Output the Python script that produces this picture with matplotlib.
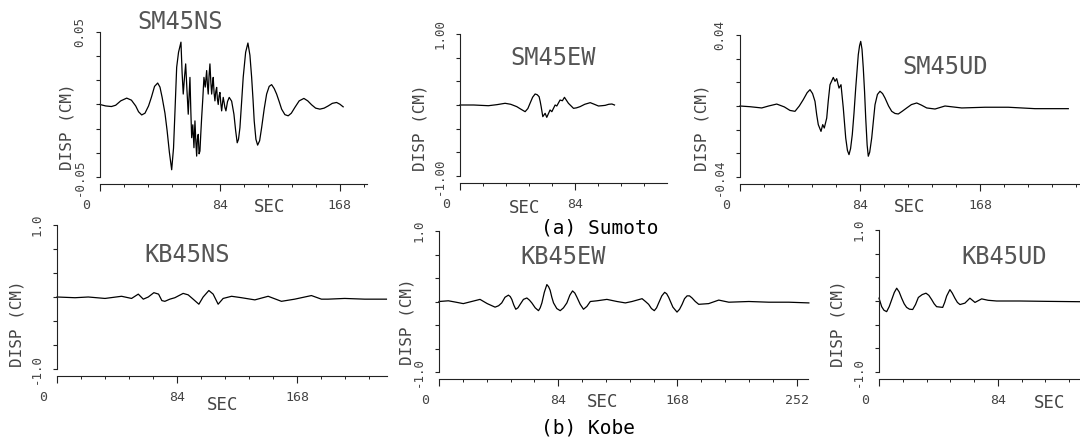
import matplotlib
matplotlib.use('Agg')
import matplotlib.pyplot as plt
from matplotlib.transforms import ScaledTranslation

W, H = 1080, 437
FONT = 'DejaVu Sans Mono'

sm_ns_t = [0, 4, 8, 11, 14.5, 18.7, 22, 25, 27, 29.2, 31.5, 34, 36, 38.2, 40.4, 42, 43.5,
           45.5, 47, 48.6, 50.2, 51.5, 52.5, 53.7, 55, 56.7,
           57.5, 58.3, 59.2, 60.0, 60.9, 61.8, 62.4, 63.0, 63.6, 64.2, 65.0, 65.8, 66.5,
           67.1, 67.7, 68.2, 68.8, 69.4, 70.0, 70.6, 71.2, 72.0, 72.8, 73.7, 74.7, 75.2,
           75.8, 76.4, 77.0, 77.6, 78.2, 78.8, 79.3, 79.9, 80.5, 81.1, 81.7, 82.2, 82.8,
           83.4, 84.0, 84.6, 85.2, 85.8, 86.3, 86.9, 87.5, 88.2, 89.3, 90.5, 92.2,
           93.8, 95, 96.1, 97, 98, 99.2, 100.3, 102, 103.6, 105, 106.2, 107.2, 108, 109.2,
           110.4, 111.8, 113.2, 115, 116.7, 118.5, 120.2, 122, 123.7, 125.5, 127.2, 129.5,
           131.8, 134, 136.5, 139.5, 142.8, 145.5, 148.2, 151, 154, 157, 159.8, 162.7,
           165.7, 168, 170.3]
sm_ns_v = [0, -0.001, -0.0014, -0.0005, 0.0025, 0.0044, 0.003, -0.001, -0.005, -0.0072,
           -0.006, -0.001, 0.005, 0.0125, 0.0148, 0.012, 0.005,
           -0.006, -0.018, -0.033, -0.045, -0.03, -0.005, 0.0257, 0.036, 0.043,
           0.022, 0.0072, 0.019, 0.028, 0.01, -0.0067, 0.006, 0.0187, -0.004, -0.0229,
           -0.014, -0.0298, -0.0113, -0.025, -0.0356, -0.024, -0.0206, -0.034, -0.0321,
           -0.02, -0.009, 0.004, 0.0187, 0.012, 0.0234, 0.014, 0.0072, 0.02, 0.028, 0.016,
           0.0072, 0.014, 0.0187, 0.008, 0.0025, 0.009, 0.0118, 0.004, 0.0, 0.006, 0.0083,
           0.001, -0.0044, 0.001, 0.0049, 0.0015, -0.0021, -0.0044, 0.002, 0.0049, 0.0023,
           -0.0067, -0.018, -0.0264, -0.024, -0.016, 0.002, 0.0188, 0.036, 0.0424, 0.034,
           0.0188, 0.003, -0.0113, -0.024, -0.028, -0.025, -0.016, -0.003, 0.0072, 0.0125,
           0.0137, 0.011, 0.0072, 0.002, -0.0032, -0.007, -0.0078, -0.006, -0.002, 0.0025,
           0.0042, 0.0025, -0.0002, -0.0025, -0.0032, -0.0025, -0.001, 0.0008, 0.0014,
           0.0002, -0.0016]

sm_ew_t = [0, 10, 20.7, 27, 32.9, 37, 41.4, 44.5, 47.5, 49.5, 51.1, 53, 54.8, 56.3, 57.7,
           58.5, 59.2, 60.4, 62.1, 63.3, 65.7, 67.0, 69.4, 70.6, 73.0, 74.7, 76.2, 79.1,
           82.8, 85, 87.6, 91, 95.0, 98, 101.0, 103.5, 105.9, 108.5, 110.8, 112.7]
sm_ew_v = [0, 0, -0.01, 0.005, 0.024, 0.01, -0.023, -0.06, -0.094, -0.05, 0.024, 0.11,
           0.155, 0.145, 0.117, 0.05, -0.023, -0.164, -0.117, -0.174, -0.07, -0.094, 0.0,
           -0.014, 0.07, 0.06, 0.108, 0.024, -0.047, -0.04, -0.023, 0.01, 0.033, 0.01,
           -0.014, -0.01, -0.005, 0.01, 0.014, 0.0]

sm_ud_t = [0, 7, 15.2, 20, 25.7, 31, 35, 38.5, 41.5, 44.3, 47, 49.0, 50.8, 52.5, 53.7, 54.8,
           56.7, 57.9, 59.0, 60.7, 61.8, 63.0, 65.3, 66.5, 67.7, 69.3, 70.7, 72.3, 74.0,
           75.2, 76.3, 77.4, 78.6, 79.8, 81.0, 82.8, 83.7, 84.5, 85.4, 86.3, 87.2, 88.0,
           89.0, 89.8, 90.8, 92.2, 93.3, 94.5, 96.2, 98.0, 99.8, 101.5, 104, 106.2, 108.5,
           110.8, 113.5, 116.7, 120, 123.7, 127, 130.7, 136.5, 143.5, 155.2, 171.5, 187.8,
           206.5, 229.8]
sm_ud_v = [0, -0.0004, -0.0011, 0, 0.0011, -0.0005, -0.0025, -0.003, 0, 0.0036, 0.0075,
           0.0092, 0.007, 0.0026, -0.005, -0.0105, -0.0143, -0.0105, -0.0124, -0.0068,
           0.003, 0.012, 0.0161, 0.0139, 0.0154, 0.0101, 0.012, -0.0011, -0.018, -0.025,
           -0.0274, -0.024, -0.0161, -0.004, 0.0101, 0.0289, 0.034, 0.0364, 0.032, 0.0214,
           0.008, -0.0068, -0.022, -0.0283, -0.026, -0.018, -0.009, 0.0007, 0.0065, 0.0083,
           0.007, 0.0045, 0, -0.003, -0.0042, -0.0045, -0.003, -0.0011, 0.0008, 0.0017,
           0.0005, -0.0011, -0.0017, 0.0, -0.0011, -0.0007, -0.0007, -0.0015, -0.0015]

kb_ns_t = [0, 12.6, 21.9, 33.6, 45.2, 52.2, 56.9, 60.4, 63.9, 67.8, 71.1, 73.4, 75.5, 79,
           82.5, 88.3, 91.8, 95.3, 99.3, 102.3, 106.3, 109.3, 112.8, 116.3, 122.2, 129.2,
           138.5, 147.8, 157.1, 166.4, 178.1, 185.1, 189.7, 201.4, 215.4, 230.6]
kb_ns_v = [0, -0.01, 0, -0.02, 0.01, -0.02, 0.04, -0.03, 0, 0.06, 0.04, -0.05, -0.06,
           -0.03, -0.01, 0.05, 0.03, -0.03, -0.10, 0, 0.09, 0.04, -0.10, -0.02, 0.01,
           -0.01, -0.04, 0.01, -0.06, -0.03, 0.02, -0.03, -0.03, -0.02, -0.03, -0.03]

kb_ew_t = [0, 6.6, 12, 17.1, 23, 28.9, 34, 39.5, 42, 44.2, 46.5, 48.9, 50.2, 51.3, 52.7,
           54.1, 55.6, 57.2, 59.5, 61.9, 63.7, 65.4, 67.8, 70.1, 71.3, 72.5, 74.2, 76.0,
           77.2, 78.3, 79.5, 80.7, 83.0, 85.4, 87.7, 90.1, 92.2, 94.1, 95.7, 97.2, 99.5,
           101.8, 104.2, 106.6, 111.3, 118.3, 125.4, 131.3, 136.0, 143.1, 145.5, 147.7,
           149.7, 151.7, 153.3, 154.8, 157.0, 159.0, 160.4, 161.8, 164.8, 167.7, 169.5,
           171.3, 173.0, 174.8, 176.5, 178.3, 180.6, 183.0, 190.0, 197.1, 204.2, 218.3,
           232.4, 246.5, 260.6]
kb_ew_v = [0, 0.01, -0.01, -0.03, 0, 0.03, -0.03, -0.08, -0.06, -0.02, 0.06, 0.09, 0.07,
           0.03, -0.05, -0.11, -0.09, -0.04, 0.03, 0.05, 0.02, -0.02, -0.09, -0.13, -0.09,
           -0.02, 0.13, 0.24, 0.21, 0.16, 0.06, -0.02, -0.10, -0.13, -0.09, -0.02, 0.09,
           0.15, 0.12, 0.06, -0.04, -0.11, -0.07, 0, 0.01, 0.03, 0, -0.02, 0, 0.04, 0.0,
           -0.04, -0.10, -0.13, -0.09, -0.02, 0.08, 0.13, 0.11, 0.06, -0.08, -0.15, -0.11,
           -0.04, 0.04, 0.08, 0.08, 0.05, 0, -0.04, -0.03, 0.02, -0.01, 0, -0.01, -0.01,
           -0.02]

kb_ud_t = [0, 1.9, 3.5, 5.4, 7.2, 9.0, 10.8, 12.5, 14.2, 16.0, 17.8, 19.5, 21.5, 23.8,
           25.8, 27.8, 30.5, 33.2, 35.2, 37.2, 39.0, 40.7, 45.0, 46.4, 47.8, 50.1, 51.8,
           53.6, 55.4, 57.2, 60.7, 64.2, 67.8, 72.5, 77.1, 83.1, 99.5, 118.4, 141.9]
kb_ud_v = [0.04, -0.08, -0.13, -0.15, -0.08, 0.02, 0.12, 0.18, 0.13, 0.04, -0.04, -0.09,
           -0.115, -0.12, -0.05, 0.05, 0.09, 0.11, 0.08, 0.02, -0.04, -0.08, -0.09, -0.02,
           0.07, 0.16, 0.11, 0.04, -0.02, -0.05, -0.03, 0.04, -0.02, 0.03, 0.01, 0, 0,
           -0.005, -0.01]

names = ['SM45NS', 'SM45EW', 'SM45UD', 'KB45NS', 'KB45EW', 'KB45UD']
traces = [(sm_ns_t, sm_ns_v), (sm_ew_t, sm_ew_v), (sm_ud_t, sm_ud_v),
          (kb_ns_t, kb_ns_v), (kb_ew_t, kb_ew_v), (kb_ud_t, kb_ud_v)]
yranges = [0.05, 1.0, 0.04, 1.0, 1.0, 1.0]
ylabels = [('-0.05', '0.05'), ('-1.00', '1.00'), ('-0.04', '0.04'),
           ('-1.0', '1.0'), ('-1.0', '1.0'), ('-1.0', '1.0')]
xlabels = [[0, 84, 168], [0, 84], [0, 84, 168], [0, 84, 168], [0, 84, 168, 252], [0, 84]]
xmaxs = [187, 151, 238, 231, 260, 142]

# ---- layout in pixels: left, right, top, bottom of each panel ----
boxes = [(100, 367, 32, 177), (460, 667, 34, 176), (740, 1080, 35, 177),
         (57, 387, 225, 369), (439, 808, 231, 372), (879, 1080, 230, 372)]
title_pos = [(180, 22), (553, 58), (945, 67), (187, 255), (563, 257), (1004, 257)]
sec_pos = [(270, 207), (525, 208), (910, 207), (223, 405), (603, 402), (1050, 403)]
disp_pos = [(67, 127), (420, 128), (702, 128), (17, 324), (407, 322), (838, 324)]

fig = plt.figure(figsize=(W / 100, H / 100), dpi=100)
fig.patch.set_facecolor('white')

def fx(px):
    return px / W

def fy(py):
    return 1 - py / H

for i in range(6):
    l, r, t, b = boxes[i]
    ax = fig.add_axes([fx(l), fy(b), (r - l) / W, (b - t) / H])
    ax.patch.set_alpha(0)
    tt, vv = traces[i]
    ax.plot(tt, vv, color='black', lw=0.9, clip_on=False, solid_joinstyle='round')
    yr = yranges[i]
    ax.set_xlim(0, xmaxs[i])
    ax.set_ylim(-yr, yr)
    for s in ['top', 'right']:
        ax.spines[s].set_visible(False)
    for s in ['left', 'bottom']:
        ax.spines[s].set_linewidth(0.8)
        ax.spines[s].set_color('#222222')
    ax.spines['bottom'].set_position(('outward', 5))
    # y ticks: 7 marks, labels only at the ends
    yt = [-yr + k * yr / 3 for k in range(7)]
    ax.set_yticks(yt)
    ax.set_yticklabels([ylabels[i][0], '', '', '', '', '', ylabels[i][1]],
                       rotation=90, va='center', fontsize=9, family=FONT, color='#444444')
    ax.tick_params(axis='y', direction='out', length=3, width=0.8, pad=7, color='#222222')
    # x ticks
    nmaj = int(xmaxs[i] // 84) + 1
    ax.set_xticks([k * 84 for k in range(nmaj)])
    ax.set_xticklabels([str(v) for v in xlabels[i]] + [''] * (nmaj - len(xlabels[i])),
                       fontsize=9.5, family=FONT, color='#444444')
    ax.set_xticks([k * 16.8 for k in range(int(xmaxs[i] / 16.8) + 1)], minor=True)
    ax.tick_params(axis='x', which='major', direction='out', length=5, width=0.8,
                   pad=6, color='#222222')
    ax.tick_params(axis='x', which='minor', direction='out', length=2.5, width=0.7,
                   color='#222222')
    first = ax.get_xticklabels()[0]
    first.set_transform(first.get_transform() + ScaledTranslation(-14 / 100, 0, fig.dpi_scale_trans))

    fig.text(fx(title_pos[i][0]), fy(title_pos[i][1]), names[i], ha='center', va='center',
             fontsize=17, family=FONT, color='#555555')
    fig.text(fx(sec_pos[i][0]), fy(sec_pos[i][1]), 'SEC', ha='center', va='center',
             fontsize=12.5, family=FONT, color='#444444')
    fig.text(fx(disp_pos[i][0]), fy(disp_pos[i][1]), 'DISP (CM)', ha='center', va='center',
             rotation=90, fontsize=11.5, family=FONT, color='#444444')

fig.text(fx(600), fy(228), '(a) Sumoto', ha='center', va='center', fontsize=14,
         family=FONT, color='black')
fig.text(fx(588), fy(428), '(b) Kobe', ha='center', va='center', fontsize=14,
         family=FONT, color='black')

fig.savefig('out.png', dpi=100)
